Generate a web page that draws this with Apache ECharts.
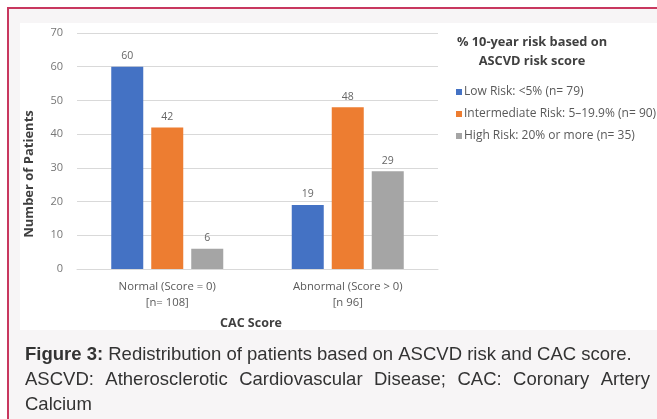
<!DOCTYPE html>
<html><head><meta charset="utf-8">
<script src="https://cdn.jsdelivr.net/npm/echarts@6/dist/echarts.min.js"></script>
<style>html,body{margin:0;padding:0;background:#fff}#c{width:657px;height:419px}</style>
</head><body><div id="c"></div>
<script>
var categories = ['Normal (Score = 0)\n[n= 108]', 'Abnormal (Score > 0)\n[n 96]'];
var seriesNames = ['Low Risk: <5% (n= 79)', 'Intermediate Risk: 5\u201319.9% (n= 90)', 'High Risk: 20% or more (n= 35)'];
var lowRisk = [60, 19];
var intermediateRisk = [42, 48];
var highRisk = [6, 29];
var colors = ['#4472c4', '#ed7d31', '#a5a5a5'];
var yAxisTitle = 'Number of Patients';
var xAxisTitle = 'CAC Score';
var legendTitle = '% 10-year risk based on\nASCVD risk score';
var captionBold = 'Figure 3:';
var captionLine1 = ' Redistribution of patients based on ASCVD risk and CAC score.';
var captionLine2 = 'ASCVD: Atherosclerotic Cardiovascular Disease; CAC: Coronary Artery';
var captionLine3 = 'Calcium';

var capFont = '18.5px "Liberation Sans", Arial, sans-serif';
var capX = 25, capRight = 650;
var cv = document.createElement('canvas').getContext('2d');
cv.font = capFont;
var words = captionLine2.split(' ');
var wsum = 0; words.forEach(function(w){ wsum += cv.measureText(w).width; });
var gap = (capRight - capX - wsum) / (words.length - 1);
var line2 = []; var xx = capX;
words.forEach(function(w){
  line2.push({type:'text', left: xx, top: 370, style:{text:w, font:capFont, fill:'#333'}});
  xx += cv.measureText(w).width + gap;
});
cv.font = 'bold ' + capFont;
var boldW = cv.measureText(captionBold).width;

var chart = echarts.init(document.getElementById('c'));
var FF = '"Open Sans", sans-serif';
function mk(name, data, i){
  return {name:name, type:'bar', data:data, barWidth:32, barGap:'25%',
    itemStyle:{color:colors[i]},
    label:{show:true, position:'top', distance:5, fontFamily:FF, fontSize:10.5, color:'#666'}};
}
chart.setOption({
  animation:false,
  graphic:[
    {type:'rect', shape:{x:8, y:8, width:700, height:450}, style:{fill:'#f7f5f6', stroke:'#c8385f', lineWidth:2}, z:-10},
    {type:'rect', shape:{x:20, y:23, width:700, height:307}, style:{fill:'#ffffff'}, z:-9},
    {type:'text', x:29, y:174, rotation:Math.PI/2, style:{text:yAxisTitle, font:'bold 13px "Open Sans", sans-serif', fill:'#404040', textAlign:'center', textVerticalAlign:'middle'}},
    {type:'text', x:251, y:323, style:{text:xAxisTitle, font:'bold 12.5px "Open Sans", sans-serif', fill:'#404040', textAlign:'center', textVerticalAlign:'middle'}},
    {type:'text', left:capX, top:345, style:{text:captionBold, font:'bold '+capFont, fill:'#333'}},
    {type:'text', left:capX+boldW, top:345, style:{text:captionLine1, font:capFont, fill:'#333'}}
  ].concat(line2).concat([
    {type:'text', left:capX, top:395, style:{text:captionLine3, font:capFont, fill:'#333'}}
  ]),
  title:{text:legendTitle, left:527, top:28, textAlign:'center',
    textStyle:{fontFamily:FF, fontSize:12.8, fontWeight:'bold', color:'#404040', lineHeight:19}},
  legend:{orient:'vertical', left:451, top:81, itemWidth:6, itemHeight:6, itemGap:10, icon:'rect',
    textStyle:{fontFamily:FF, fontSize:12, color:'#595959', padding:[0,0,0,-3]}},
  grid:{left:77, right:219, top:33, bottom:150},
  xAxis:{type:'category', data:categories,
    axisLine:{lineStyle:{color:'#d9d9d9'}}, axisTick:{show:false},
    axisLabel:{fontFamily:FF, fontSize:11.3, color:'#595959', lineHeight:16, margin:10}},
  yAxis:{type:'value', min:0, max:70, interval:10,
    axisLine:{show:false}, axisTick:{show:false},
    splitLine:{lineStyle:{color:'#d9d9d9'}},
    axisLabel:{fontFamily:FF, fontSize:11, color:'#777', margin:14}},
  series:[mk(seriesNames[0], lowRisk, 0), mk(seriesNames[1], intermediateRisk, 1), mk(seriesNames[2], highRisk, 2)]
});
</script></body></html>
